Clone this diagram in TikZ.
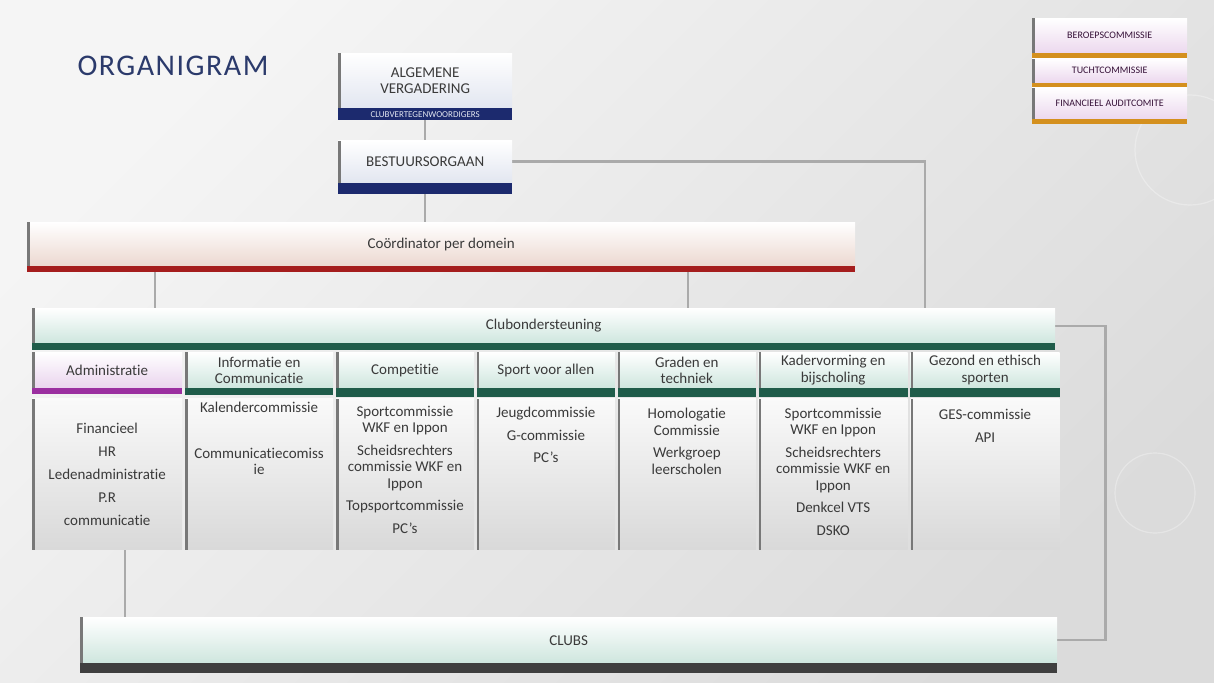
\documentclass[tikz,border=0pt]{standalone}
\usepackage{fontspec}
\setmainfont{Carlito}[Ligatures=NoCommon]
\newfontfamily\titelfont[LetterSpace=5,Ligatures=NoCommon]{Carlito}
\usetikzlibrary{positioning,backgrounds}

\definecolor{navy}{RGB}{28,42,110}
\definecolor{rood}{RGB}{165,29,29}
\definecolor{groen}{RGB}{31,92,74}
\definecolor{paars}{RGB}{155,47,160}
\definecolor{donker}{RGB}{63,63,63}
\definecolor{oranje}{RGB}{212,144,30}
\definecolor{titelblauw}{RGB}{43,58,107}
\definecolor{tekstgrijs}{RGB}{58,58,58}
\definecolor{lijngrijs}{RGB}{170,170,170}
\definecolor{randgrijs}{RGB}{120,120,120}
\definecolor{mint}{RGB}{206,230,222}
\definecolor{perzik}{RGB}{236,216,208}
\definecolor{lila}{RGB}{234,212,238}
\definecolor{blauwzacht}{RGB}{226,230,240}
\definecolor{roze}{RGB}{236,216,238}

\tikzset{
  lijn/.style={draw=lijngrijs, line width=2.3pt},
  rand/.style={path picture={\fill[randgrijs] (path picture bounding box.north west) rectangle ([xshift=2.5pt]path picture bounding box.south west);}},
  vak/.style={rand, inner sep=1pt, align=center, text=tekstgrijs, top color=white, bottom color=#1, font=\fontsize{15}{16.5}\selectfont},
  lijstvak/.style={rand, inner sep=0pt, minimum height=151pt, top color=white!98!black, bottom color=black!15},
  items/.style={inner sep=1pt, align=center, text=tekstgrijs, font=\fontsize{15}{16.5}\selectfont},
  klein/.style={vak=roze, text=black!65!paars, font=\fontsize{10}{11}\selectfont, minimum width=155pt},
  balktekst/.style={inner sep=0pt, text=blauwzacht, font=\fontsize{9}{9}\selectfont},
  titel/.style={font=\titelfont\fontsize{30}{33}\selectfont, text=titelblauw}
}

\begin{document}
\begin{tikzpicture}[x=1pt,y=-1pt]
  \useasboundingbox (0,0) rectangle (1214,682);
  \begin{scope}[on background layer]
    \shade[top color=black!4, bottom color=black!14, shading angle=45] (0,0) rectangle (1214,682);
    \draw[white, opacity=.3, line width=1.2pt] (1190,150) circle (55pt) (1155,493) circle (40pt);
  \end{scope}

  \node[titel] (titel) at (173,66) {ORGANIGRAM};

  % bestuur
  \node[vak=blauwzacht, minimum width=174pt, minimum height=55pt, anchor=north west] (av) at (338,53) {ALGEMENE\\VERGADERING};
  \fill[navy] (av.south west) rectangle ([yshift=-12pt]av.south east);
  \node[balktekst] (leden) at ([yshift=-6pt]av.south) {CLUBVERTEGENWOORDIGERS};
  \node[vak=blauwzacht, minimum width=174pt, minimum height=42pt, below=32pt of av] (bo) {BESTUURSORGAAN};
  \fill[navy] (bo.south west) rectangle ([yshift=-11pt]bo.south east);

  % commissies rechts
  \node[klein, minimum height=35pt, anchor=north west] (beroep) at (1032,18) {BEROEPSCOMMISSIE};
  \fill[oranje] (beroep.south west) rectangle ([yshift=-5pt]beroep.south east);
  \node[klein, minimum height=24pt, below=5pt of beroep] (tucht) {TUCHTCOMMISSIE};
  \fill[oranje] (tucht.south west) rectangle ([yshift=-5pt]tucht.south east);
  \node[klein, minimum height=31pt, below=5pt of tucht] (audit) {FINANCIEEL AUDITCOMITE};
  \fill[oranje] (audit.south west) rectangle ([yshift=-5pt]audit.south east);

  % coordinatie en clubondersteuning
  \node[vak=perzik, minimum width=828pt, minimum height=44pt, anchor=north west] (coord) at (27,222) {Coördinator per domein};
  \fill[rood] (coord.south west) rectangle ([yshift=-6pt]coord.south east);
  \node[vak=mint, minimum width=1023pt, minimum height=35pt, anchor=north west] (club) at (32,308) {Clubondersteuning};
  \fill[groen] (club.south west) rectangle ([yshift=-7pt]club.south east);

  % domeinen
  \node[vak=lila, minimum width=150pt, minimum height=36pt, anchor=north west] (kop1) at (32,352) {Administratie};
  \node[vak=mint, minimum width=148pt, minimum height=36pt, right=2.5pt of kop1] (kop2) {Informatie en\\Communicatie};
  \node[vak=mint, minimum width=138pt, minimum height=36pt, right=2.5pt of kop2] (kop3) {Competitie};
  \node[vak=mint, minimum width=138pt, minimum height=36pt, right=2.5pt of kop3] (kop4) {Sport voor allen};
  \node[vak=mint, minimum width=138pt, minimum height=36pt, right=2.5pt of kop4] (kop5) {Graden en\\techniek};
  \node[vak=mint, minimum width=149pt, minimum height=36pt, right=2.5pt of kop5] (kop6) {Kadervorming en\\bijscholing};
  \node[vak=mint, minimum width=149pt, minimum height=36pt, right=2.5pt of kop6] (kop7) {Gezond en ethisch\\sporten};
  \fill[paars] (kop1.south west) rectangle ([yshift=-6pt]kop1.south east);
  \fill[groen] (kop2.south west) rectangle ([yshift=-7pt]kop2.south east);
  \fill[groen] (kop3.south west) rectangle ([yshift=-9pt]kop3.south east);
  \fill[groen] (kop4.south west) rectangle ([yshift=-9pt]kop4.south east);
  \fill[groen] (kop5.south west) rectangle ([yshift=-9pt]kop5.south east);
  \fill[groen] (kop6.south west) rectangle ([yshift=-9pt]kop6.south east);
  \fill[groen] (kop7.south west) rectangle ([yshift=-9pt]kop7.south east);

  \node[lijstvak, minimum width=150pt, below=10pt of kop1] (lijst1) {};
  \node[lijstvak, minimum width=148pt, below=10pt of kop2] (lijst2) {};
  \node[lijstvak, minimum width=138pt, below=10pt of kop3] (lijst3) {};
  \node[lijstvak, minimum width=138pt, below=10pt of kop4] (lijst4) {};
  \node[lijstvak, minimum width=138pt, below=10pt of kop5] (lijst5) {};
  \node[lijstvak, minimum width=149pt, below=10pt of kop6] (lijst6) {};
  \node[lijstvak, minimum width=149pt, below=10pt of kop7] (lijst7) {};

  \node[items] (items1) at (lijst1) {Financieel\\[6.5pt]HR\\[6.5pt]Ledenadministratie\\[6.5pt]P.R\\[6.5pt]communicatie};
  \node[items, below=2.5pt of lijst2.north] (items2) {Kalendercommissie\\[29pt]Communicatiecomiss\\ie};
  \node[items, below=6.5pt of lijst3.north] (items3) {Sportcommissie\\WKF en Ippon\\[6pt]Scheidsrechters\\commissie WKF en\\Ippon\\[6pt]Topsportcommissie\\[6pt]PC’s};
  \node[items, below=7.5pt of lijst4.north] (items4) {Jeugdcommissie\\[6pt]G-commissie\\[6pt]PC’s};
  \node[items, below=8.5pt of lijst5.north] (items5) {Homologatie\\Commissie\\[6pt]Werkgroep\\leerscholen};
  \node[items, below=8.5pt of lijst6.north] (items6) {Sportcommissie\\WKF en Ippon\\[6pt]Scheidsrechters\\commissie WKF en\\Ippon\\[6pt]Denkcel VTS\\[6pt]DSKO};
  \node[items, below=10pt of lijst7.north] (items7) {GES-commissie\\[6pt]API};

  % clubs
  \node[vak=mint, minimum width=977pt, minimum height=46pt, anchor=north west] (clubs) at (80,617) {CLUBS};
  \fill[donker] (clubs.south west) rectangle ([yshift=-10pt]clubs.south east);

  % verbindingen
  \coordinate (knik) at (925,308);
  \coordinate (tak1) at (155,272);
  \coordinate (tak2) at (688,272);
  \coordinate (voet) at (125,549);
  \begin{scope}[on background layer]
    \draw[lijn] (av) -- (bo);
    \draw[lijn] (bo) -- (bo |- coord.north);
    \draw[lijn] (bo.east) -| (knik);
    \draw[lijn] (tak1) -- (tak1 |- club.north);
    \draw[lijn] (tak2) -- (tak2 |- club.north);
    \draw[lijn] (club.east) -- ++(50,0) |- (clubs.east);
    \draw[lijn] (lijst1.south -| voet) -- (clubs.north -| voet);
  \end{scope}
\end{tikzpicture}
\end{document}
